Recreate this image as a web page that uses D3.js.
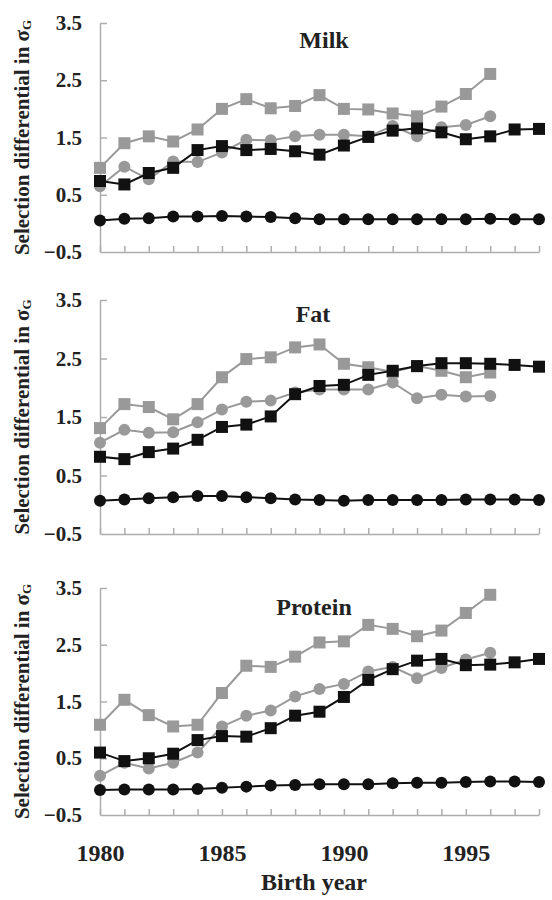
<!DOCTYPE html>
<html>
<head>
<meta charset="utf-8">
<script src="https://cdn.jsdelivr.net/npm/d3@7"></script>
<style>
  body { margin: 0; background: #fff; }
  svg text { font-family: "Liberation Serif", "Times New Roman", Times, serif; font-weight: bold; fill: #222; }
</style>
</head>
<body>
<div id="chart"></div>
<script>
// birth years on the x axis
const years = [1980, 1981, 1982, 1983, 1984, 1985, 1986, 1987, 1988, 1989,
               1990, 1991, 1992, 1993, 1994, 1995, 1996, 1997, 1998];
const yearLabels = [1980, 1985, 1990, 1995];
const yTicks = [-0.5, 0.5, 1.5, 2.5, 3.5];

// Milk
const milkGraySq   = [0.97, 1.40, 1.52, 1.43, 1.64, 2.00, 2.17, 2.01, 2.05, 2.24, 2.00, 1.99, 1.92, 1.87, 2.04, 2.26, 2.61];
const milkGrayCirc = [0.65, 0.99, 0.77, 1.08, 1.07, 1.24, 1.46, 1.45, 1.52, 1.55, 1.55, 1.52, 1.70, 1.52, 1.68, 1.72, 1.87];
const milkBlackSq  = [0.74, 0.68, 0.88, 0.97, 1.28, 1.35, 1.28, 1.30, 1.26, 1.20, 1.36, 1.51, 1.62, 1.66, 1.59, 1.47, 1.52, 1.64, 1.65];
const milkBlackCirc= [0.05, 0.08, 0.09, 0.12, 0.12, 0.13, 0.12, 0.11, 0.09, 0.07, 0.07, 0.07, 0.07, 0.07, 0.07, 0.07, 0.08, 0.07, 0.07];

// Fat
const fatGraySq    = [1.31, 1.72, 1.67, 1.46, 1.72, 2.18, 2.49, 2.52, 2.69, 2.74, 2.41, 2.35, 2.27, 2.37, 2.29, 2.18, 2.26];
const fatGrayCirc  = [1.06, 1.28, 1.23, 1.24, 1.41, 1.63, 1.76, 1.78, 1.92, 1.97, 1.97, 1.97, 2.09, 1.82, 1.88, 1.85, 1.86];
const fatBlackSq   = [0.82, 0.78, 0.90, 0.96, 1.11, 1.33, 1.37, 1.51, 1.89, 2.03, 2.05, 2.22, 2.29, 2.37, 2.42, 2.42, 2.41, 2.39, 2.36];
const fatBlackCirc = [0.07, 0.09, 0.11, 0.13, 0.15, 0.15, 0.13, 0.11, 0.09, 0.08, 0.07, 0.08, 0.08, 0.08, 0.08, 0.09, 0.09, 0.09, 0.08];

// Protein
const protGraySq   = [1.09, 1.53, 1.26, 1.06, 1.09, 1.65, 2.13, 2.11, 2.29, 2.54, 2.56, 2.85, 2.78, 2.65, 2.75, 3.06, 3.38];
const protGrayCirc = [0.19, 0.42, 0.32, 0.42, 0.60, 1.06, 1.25, 1.34, 1.59, 1.72, 1.81, 2.03, 2.11, 1.91, 2.09, 2.24, 2.36];
const protBlackSq  = [0.60, 0.45, 0.50, 0.58, 0.82, 0.89, 0.88, 1.03, 1.25, 1.32, 1.58, 1.88, 2.07, 2.22, 2.25, 2.14, 2.15, 2.19, 2.25];
const protBlackCirc= [-0.06, -0.05, -0.05, -0.05, -0.04, -0.02, 0.00, 0.02, 0.03, 0.04, 0.04, 0.04, 0.06, 0.07, 0.07, 0.08, 0.09, 0.09, 0.08];

const W = 552, H = 900;
const left = 100, right = 539;
const gray = '#999999', black = '#111111', axisColor = '#adadad';

const svg = d3.select('#chart').append('svg')
    .attr('width', W)
    .attr('height', H);

const x = d3.scaleLinear().domain([1980, 1998]).range([left, right]);

// one panel per trait
const panels = [
    {title: 'Milk',    top: 23,  bottom: 252, titleX: 324, titleY: 48,  series: [milkGraySq, milkGrayCirc, milkBlackSq, milkBlackCirc]},
    {title: 'Fat',     top: 300, bottom: 534, titleX: 313, titleY: 322, series: [fatGraySq, fatGrayCirc, fatBlackSq, fatBlackCirc]},
    {title: 'Protein', top: 588, bottom: 815, titleX: 314, titleY: 615, series: [protGraySq, protGrayCirc, protBlackSq, protBlackCirc]}
];
// marker style of each series, in draw order
const styles = [
    {color: gray,  shape: 'square'},
    {color: gray,  shape: 'circle'},
    {color: black, shape: 'square'},
    {color: black, shape: 'circle'}
];

panels.forEach(function(p, pi){
    let y = d3.scaleLinear().domain([-0.5, 3.5]).range([p.bottom, p.top]);
    let g = svg.append('g');

    // y axis, ticks point inward
    let yAxis = g.append('g')
        .attr('transform', `translate(${left},0)`)
        .call(d3.axisLeft(y).tickValues(yTicks).tickFormat(d3.format('.1f'))
            .tickSizeInner(-7).tickSizeOuter(0).tickPadding(18));
    yAxis.attr('font-family', null);
    yAxis.selectAll('text').style('font-size', '21px').attr('fill', '#222');

    // x axis, ticks point up
    let xAxis = g.append('g')
        .attr('transform', `translate(0,${p.bottom})`)
        .call(d3.axisBottom(x).tickValues(years)
            .tickFormat(d => (pi === 2 && yearLabels.includes(d)) ? d : '')
            .tickSizeInner(-6).tickSizeOuter(0).tickPadding(29));
    xAxis.attr('font-family', null);
    xAxis.selectAll('text').style('font-size', '24px').attr('fill', '#222');

    g.selectAll('.domain, .tick line')
        .attr('stroke', axisColor)
        .attr('stroke-width', 1.5);
    g.selectAll('.tick line').filter(d => d === -0.5).remove();

    // y label
    let lab = g.append('text')
        .attr('transform', `translate(22,${(p.top + p.bottom) / 2}) rotate(-90)`)
        .attr('text-anchor', 'middle')
        .attr('dominant-baseline', 'central')
        .style('font-size', '21px');
    lab.append('tspan').text('Selection differential in σ');
    lab.append('tspan').text('G').style('font-size', '13px').attr('dy', 4);

    // panel title
    g.append('text')
        .attr('x', p.titleX)
        .attr('y', p.titleY)
        .attr('text-anchor', 'middle')
        .style('font-size', '24px')
        .text(p.title);

    // series
    p.series.forEach(function(vals, si){
        let st = styles[si];
        let pts = vals.map((v, i) => ({yr: years[i], v: v}));
        let line = d3.line().x(d => x(d.yr)).y(d => y(d.v));
        g.append('path')
            .datum(pts)
            .attr('d', line)
            .attr('fill', 'none')
            .attr('stroke', st.color)
            .attr('stroke-width', 2);
        if(st.shape === 'square'){
            g.selectAll(null)
                .data(pts)
                .enter()
                .append('rect')
                .attr('x', d => x(d.yr) - 6)
                .attr('y', d => y(d.v) - 6)
                .attr('width', 12)
                .attr('height', 12)
                .attr('fill', st.color);
        } else {
            g.selectAll(null)
                .data(pts)
                .enter()
                .append('circle')
                .attr('cx', d => x(d.yr))
                .attr('cy', d => y(d.v))
                .attr('r', 6)
                .attr('fill', st.color);
        }
    });
});

// x axis title
svg.append('text')
    .attr('x', 314)
    .attr('y', 890)
    .attr('text-anchor', 'middle')
    .style('font-size', '24px')
    .text('Birth year');
</script>
</body>
</html>
